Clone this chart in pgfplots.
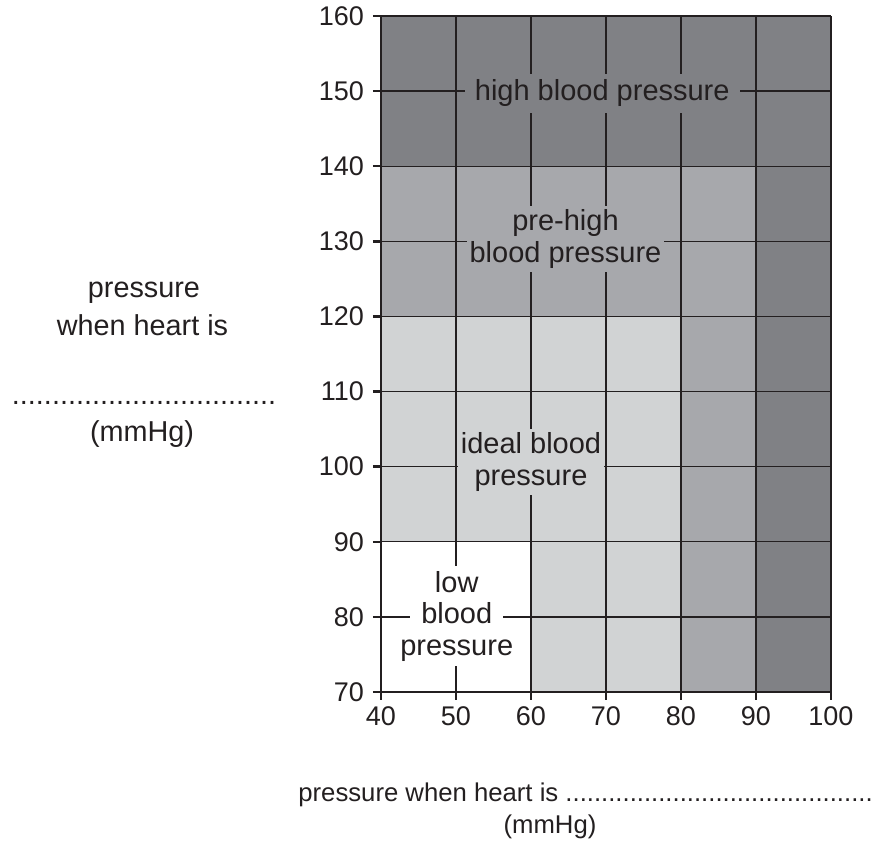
\documentclass[border=0pt]{standalone}
\usepackage{pgfplots}
\pgfplotsset{compat=1.18}
\usepackage{fontspec}
\setmainfont{Liberation Sans}
\definecolor{cdark}{RGB}{128,129,133}
\definecolor{cmid}{RGB}{167,168,172}
\definecolor{clight}{RGB}{209,211,212}
\definecolor{ink}{RGB}{35,31,32}
\begin{document}
\begin{tikzpicture}[x=1pt,y=1pt]
\path[use as bounding box] (-190.5,-77.5) rectangle (246.5,346);
\begin{axis}[
 at={(0,0)}, anchor=south west,
 width=225pt, height=338pt, scale only axis,
 xmin=40, xmax=100, ymin=70, ymax=160,
 xtick={40,50,...,100}, ytick={70,80,...,160},
 axis lines=left, axis line style={-, line width=1.4pt, ink},
 tick align=outside, major tick length=4pt,
 tick style={line width=1.2pt, ink},
 grid=major, major grid style={line width=0.7pt, ink},
 axis on top,
 /pgf/number format/assume math mode=true,
 tick label style={font=\fontsize{13.5}{14}\selectfont, text=ink},
 yticklabel style={xshift=-1pt},
 clip=false,
]
\addplot[fill=cdark, draw=none] coordinates {(40,160) (100,160) (100,70) (90,70) (90,140) (40,140)} -- cycle;
\addplot[fill=cmid, draw=none] coordinates {(40,140) (90,140) (90,70) (80,70) (80,120) (40,120)} -- cycle;
\addplot[fill=clight, draw=none] coordinates {(40,120) (80,120) (80,70) (60,70) (60,90) (40,90)} -- cycle;
\coordinate (hb) at (axis cs:69.5,149.7);
\coordinate (ph) at (axis cs:64.6,130.3);
\coordinate (id) at (axis cs:60,100.6);
\coordinate (lo1) at (axis cs:50.1,83.31);
\coordinate (lo2) at (axis cs:50.1,79.18);
\coordinate (lo3) at (axis cs:50.1,74.92);
\end{axis}
\tikzset{lab/.style={text=ink, font=\fontsize{14.5}{15.75}\selectfont, align=center}}
\node[lab, fill=cdark, inner xsep=5pt, inner ysep=3pt] at (hb) {high blood pressure};
\node[lab, fill=cmid, inner xsep=1.5pt, inner ysep=2pt] at (ph) {pre-high\\blood pressure};
\node[lab, fill=clight, inner xsep=1.5pt, inner ysep=2pt] at (id) {ideal blood\\pressure};
\tikzset{lowl/.style={text=ink, font=\fontsize{14.5}{15.75}\selectfont, fill=white, anchor=base, text height=11pt, text depth=3.6pt, inner ysep=2pt}}
\node[lowl, inner xsep=1.5pt] at (lo1) {low};
\node[lowl, inner xsep=5.5pt] at (lo2) {blood};
\node[lowl, inner xsep=1.5pt] at (lo3) {pressure};
\tikzset{side/.style={text=ink, font=\fontsize{14.4}{15}\selectfont, anchor=base, inner sep=0pt}}
\node[side] at (-118.5,197) {pressure};
\node[side] at (-119.25,178) {when heart is};
\node[side] at (-118.5,143.5) {.................................};
\node[side] at (-119.5,125) {(mmHg)};
\tikzset{bot/.style={text=ink, font=\fontsize{12.85}{14}\selectfont, inner sep=0pt}}
\node[bot, anchor=base west] at (-41.5,-55) {pressure when heart is ...........................................};
\node[bot, anchor=base] at (84.5,-70.5) {(mmHg)};
\end{tikzpicture}
\end{document}
